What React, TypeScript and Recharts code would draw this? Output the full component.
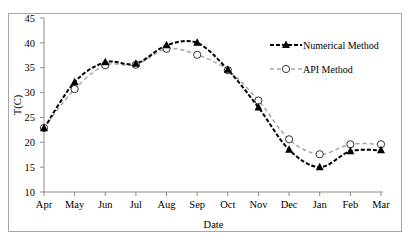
import { LineChart, Line, XAxis, YAxis } from "recharts";

// ─── Data ─────────────────────────────────────────────────────────────────────

const months = ["Apr", "May", "Jun", "Jul", "Aug", "Sep", "Oct", "Nov", "Dec", "Jan", "Feb", "Mar"];
const numerical = [22.8, 32.1, 36.1, 35.8, 39.5, 40.0, 34.6, 27.0, 18.5, 15.0, 18.2, 18.4];
const api = [22.9, 30.7, 35.5, 35.6, 38.8, 37.6, 34.5, 28.4, 20.6, 17.6, 19.6, 19.6];
const yTicks = [10, 15, 20, 25, 30, 35, 40, 45];

const data = months.map((m, i) => ({ month: m, numerical: numerical[i], api: api[i] }));

const FONT = "'Liberation Serif', 'Times New Roman', serif";
const AXIS = "#898989";

// ─── Excel-like smoothed curve (Catmull-Rom as bezier) ───────────────────────

function smoothCurve(context: any) {
  let pts: number[][] = [];
  return {
    areaStart() {},
    areaEnd() {},
    lineStart() {
      pts = [];
    },
    lineEnd() {
      if (!pts.length) return;
      context.moveTo(pts[0][0], pts[0][1]);
      const t = 1 / 6;
      for (let i = 0; i < pts.length - 1; i++) {
        const p0 = pts[i - 1] || pts[i];
        const p1 = pts[i];
        const p2 = pts[i + 1];
        const p3 = pts[i + 2] || p2;
        context.bezierCurveTo(
          p1[0] + (p2[0] - p0[0]) * t,
          p1[1] + (p2[1] - p0[1]) * t,
          p2[0] - (p3[0] - p1[0]) * t,
          p2[1] - (p3[1] - p1[1]) * t,
          p2[0],
          p2[1]
        );
      }
    },
    point(x: number, y: number) {
      pts.push([+x, +y]);
    },
  };
}

// ─── Markers ──────────────────────────────────────────────────────────────────

function Triangle({ cx, cy }: any) {
  if (cx == null || cy == null) return null;
  return <polygon points={`${cx},${cy - 4.5} ${cx - 4},${cy + 3} ${cx + 4},${cy + 3}`} fill="#000" />;
}

function Circle({ cx, cy }: any) {
  if (cx == null || cy == null) return null;
  return <circle cx={cx} cy={cy} r={3.6} fill="#fff" stroke="#333" strokeWidth={1} />;
}

// ─── Legend (overlay, so it doesn't eat plot space) ──────────────────────────

function ChartLegend() {
  const row = { display: "flex", alignItems: "center", height: 24, fontFamily: FONT, fontSize: 10, color: "#000" };
  return (
    <div style={{ position: "absolute", left: 261, top: 19 }}>
      <div style={row}>
        <svg width={32} height={12}>
          <line x1={0} y1={6} x2={32} y2={6} stroke="#000" strokeWidth={2} strokeDasharray="4 2" />
          <polygon points="16,1.5 12,9 20,9" fill="#000" />
        </svg>
        <span style={{ marginLeft: 1 }}>Numerical Method</span>
      </div>
      <div style={row}>
        <svg width={32} height={12}>
          <line x1={0} y1={6} x2={32} y2={6} stroke="#a6a6a6" strokeWidth={1.5} strokeDasharray="4 3" />
          <circle cx={16} cy={6} r={3.6} fill="#fff" stroke="#333" strokeWidth={1} />
        </svg>
        <span style={{ marginLeft: 1 }}>API Method</span>
      </div>
    </div>
  );
}

// ─── App ──────────────────────────────────────────────────────────────────────

export default function App() {
  return (
    <div
      style={{
        marginTop: 5,
        width: 392,
        height: 217,
        border: "1px solid #a6a6a6",
        boxShadow: "1px 1px 1px #d0d0d0",
        position: "relative",
        background: "#fff",
      }}
    >
      <LineChart
        width={392}
        height={217}
        data={data}
        margin={{ top: 4, right: 18, left: 0, bottom: 0 }}
        style={{ overflow: "visible" }}
      >
        <XAxis
          dataKey="month"
          padding={{ left: 0, right: 2 }}
          height={39}
          stroke={AXIS}
          tickSize={4}
          tickMargin={5}
          tick={{ fontSize: 10.5, fill: "#000", fontFamily: FONT }}
          interval={0}
          label={{ value: "Date", position: "insideBottom", offset: 3, fontSize: 10.5, fill: "#000", fontFamily: FONT }}
        />
        <YAxis
          domain={[10, 45]}
          ticks={yTicks}
          interval={0}
          width={35}
          stroke={AXIS}
          tickSize={4}
          tickMargin={5}
          tick={{ fontSize: 10.5, fill: "#000", fontFamily: FONT }}
          label={{
            value: "T(C)",
            angle: -90,
            position: "insideLeft",
            offset: 8,
            fontSize: 10.5,
            fill: "#000",
            fontFamily: FONT,
            style: { textAnchor: "middle" },
          }}
        />
        <Line
          dataKey="api"
          type={smoothCurve as any}
          stroke="#a6a6a6"
          strokeWidth={1.5}
          strokeDasharray="4 3"
          dot={<Circle />}
          activeDot={false}
          isAnimationActive={false}
        />
        <Line
          dataKey="numerical"
          type={smoothCurve as any}
          stroke="#000"
          strokeWidth={2}
          strokeDasharray="4 2"
          dot={<Triangle />}
          activeDot={false}
          isAnimationActive={false}
        />
      </LineChart>
      <ChartLegend />
    </div>
  );
}
